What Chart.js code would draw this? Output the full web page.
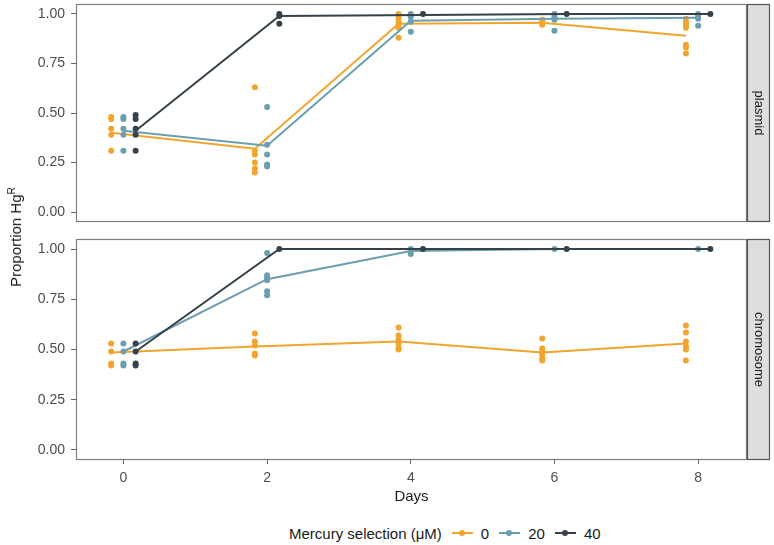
<!DOCTYPE html>
<html>
<head>
<meta charset="utf-8">
<script src="https://cdn.jsdelivr.net/npm/chart.js@4.4.1/dist/chart.umd.min.js"></script>
<style>
body { margin: 0; background: #fff; font-family: "Liberation Sans", Arial, sans-serif; }
#wrap { position: relative; width: 774px; height: 545px; overflow: hidden; }
#wrap canvas { position: absolute; left: 0; }
#ytitle { position: absolute; left: 15px; top: 237px; transform: translate(-50%, -50%) rotate(-90deg);
  white-space: nowrap; font-size: 15px; color: #1a1a1a; }
#ytitle sup { font-size: 10px; }
#legend { position: absolute; left: 289px; top: 524px; height: 18px; display: flex; align-items: center;
  font-size: 15px; color: #1a1a1a; white-space: nowrap; }
.key { position: relative; display: inline-block; width: 21px; height: 10px; margin: 0 8px 0 10px; }
.key::before { content: ''; position: absolute; left: 0; right: 0; top: 4px; height: 2px; background: var(--c); }
.key::after { content: ''; position: absolute; left: 7px; top: 2px; width: 6px; height: 6px; border-radius: 50%; background: var(--c); }
</style>
</head>
<body>
<div id="wrap">
  <canvas id="plasmidChart" width="774" height="230" style="top:0"></canvas>
  <canvas id="chromosomeChart" width="774" height="276" style="top:230px"></canvas>
  <div id="ytitle">Proportion Hg<sup>R</sup></div>
  <div id="legend"><span>Mercury selection (μM)</span></div>
</div>
<script>
const days = [0, 2, 4, 6, 8];
const doses = ['0', '20', '40'];
const doseColors = ['#F2A52E', '#6B9EAE', '#36414B'];
const yTicks = [0, 0.25, 0.5, 0.75, 1];

// plasmid panel: replicate values for each day, and the mean line
const plasmid0 = [[0.48, 0.47, 0.42, 0.39, 0.31], [0.63, 0.31, 0.29, 0.25, 0.22, 0.20],
  [1.00, 0.98, 0.96, 0.945, 0.93, 0.88], [0.97, 0.96, 0.955, 0.945], [0.975, 0.96, 0.95, 0.94, 0.93, 0.845, 0.83, 0.80]];
const plasmid20 = [[0.48, 0.47, 0.42, 0.39, 0.31], [0.53, 0.34, 0.29, 0.24, 0.23],
  [1.00, 0.985, 0.96, 0.91], [1.00, 0.985, 0.97, 0.915], [1.00, 0.99, 0.975, 0.94]];
const plasmid40 = [[0.49, 0.47, 0.42, 0.39, 0.31], [1.00, 0.99, 0.95], [1.00], [1.00], [1.00]];
const plasmidMean0 = [0.40, 0.32, 0.95, 0.955, 0.89];
const plasmidMean20 = [0.41, 0.335, 0.965, 0.975, 0.98];
const plasmidMean40 = [0.41, 0.99, 0.995, 1.00, 1.00];

// chromosome panel
const chromosome0 = [[0.53, 0.49, 0.43, 0.42], [0.58, 0.54, 0.52, 0.48, 0.47],
  [0.61, 0.57, 0.55, 0.53, 0.51, 0.50], [0.555, 0.505, 0.49, 0.475, 0.455, 0.445],
  [0.62, 0.585, 0.54, 0.515, 0.50, 0.445]];
const chromosome20 = [[0.53, 0.49, 0.43, 0.42], [0.98, 0.87, 0.855, 0.845, 0.79, 0.77],
  [1.00, 0.99, 0.975], [1.00], [1.00]];
const chromosome40 = [[0.53, 0.49, 0.43, 0.42], [1.00], [1.00], [1.00], [1.00]];
const chromosomeMean0 = [0.485, 0.515, 0.54, 0.485, 0.53];
const chromosomeMean20 = [0.49, 0.85, 0.99, 1.00, 1.00];
const chromosomeMean40 = [0.49, 1.00, 1.00, 1.00, 1.00];

const dodge = [-0.17, 0, 0.17];
const FONT = '"Liberation Sans", Arial, sans-serif';

// legend keys
const legend = document.getElementById('legend');
doses.forEach((d, i) => {
    const k = document.createElement('span');
    k.className = 'key';
    k.style.setProperty('--c', doseColors[i]);
    legend.appendChild(k);
    const t = document.createElement('span');
    t.textContent = d;
    legend.appendChild(t);
});

const panelFrame = {
    id: 'panelFrame',
    afterDraw(chart, args, opts) {
        const { ctx, chartArea: a } = chart;
        ctx.save();
        ctx.strokeStyle = '#7f7f7f';
        ctx.lineWidth = 1.2;
        ctx.strokeRect(a.left + 0.5, a.top + 0.5, a.right - a.left - 1, a.bottom - a.top - 1);
        // facet strip
        const sw = 23;
        ctx.fillStyle = '#dedede';
        ctx.fillRect(a.right, a.top, sw, a.bottom - a.top);
        ctx.strokeStyle = '#555';
        ctx.strokeRect(a.right + 0.5, a.top + 0.5, sw - 1, a.bottom - a.top - 1);
        ctx.translate(a.right + sw / 2, (a.top + a.bottom) / 2);
        ctx.rotate(Math.PI / 2);
        ctx.fillStyle = '#1a1a1a';
        ctx.font = '13px ' + FONT;
        ctx.textAlign = 'center';
        ctx.textBaseline = 'middle';
        ctx.fillText(opts.label, 0, 0);
        ctx.restore();
    }
};

function buildDatasets(points, means) {
    const ds = [];
    points.forEach((series, s) => {
        ds.push({
            data: days.map((d, i) => ({ x: d + dodge[s], y: means[s][i] })),
            showLine: true,
            borderColor: doseColors[s],
            borderWidth: 2,
            pointRadius: 0,
            order: -ds.length
        });
        ds.push({
            data: series.flatMap((vals, i) => vals.map(v => ({ x: days[i] + dodge[s], y: v }))),
            backgroundColor: doseColors[s],
            borderColor: doseColors[s],
            borderWidth: 0,
            pointRadius: 3,
            order: -ds.length
        });
    });
    return ds;
}

function makePanel(id, points, means, label, showX) {
    new Chart(document.getElementById(id), {
        type: 'scatter',
        data: { datasets: buildDatasets(points, means) },
        plugins: [panelFrame],
        options: {
            responsive: false,
            animation: false,
            layout: { padding: { top: showX ? 9 : 3, right: 27, bottom: showX ? 0 : 8, left: 0 } },
            plugins: {
                legend: { display: false },
                tooltip: { enabled: false },
                panelFrame: { label: label }
            },
            scales: {
                x: {
                    type: 'linear',
                    min: -0.66,
                    max: 8.68,
                    display: showX,
                    afterBuildTicks: s => { s.ticks = days.map(v => ({ value: v })); },
                    afterFit: s => {
                        s.height = showX ? 46 : 0;
                        s.paddingLeft = 0;
                        s.paddingRight = 0;
                    },
                    grid: { drawOnChartArea: false, drawTicks: true, tickLength: 4, color: '#666' },
                    border: { display: false },
                    ticks: { color: '#4d4d4d', font: { size: 14, family: FONT }, padding: 6, maxRotation: 0 },
                    title: { display: true, text: 'Days', color: '#1a1a1a', font: { size: 15, family: FONT }, padding: 0 }
                },
                y: {
                    min: -0.05,
                    max: 1.05,
                    afterBuildTicks: s => { s.ticks = yTicks.map(v => ({ value: v })); },
                    afterFit: s => {
                        s.width = 76;
                        s.paddingTop = 0;
                        s.paddingBottom = 0;
                    },
                    grid: { drawOnChartArea: false, drawTicks: true, tickLength: 5, color: '#666' },
                    border: { display: false },
                    ticks: { color: '#4d4d4d', font: { size: 14, family: FONT }, padding: 6,
                        callback: v => v.toFixed(2) }
                }
            }
        }
    });
}

makePanel('plasmidChart', [plasmid0, plasmid20, plasmid40],
    [plasmidMean0, plasmidMean20, plasmidMean40], 'plasmid', false);
makePanel('chromosomeChart', [chromosome0, chromosome20, chromosome40],
    [chromosomeMean0, chromosomeMean20, chromosomeMean40], 'chromosome', true);
</script>
</body>
</html>
